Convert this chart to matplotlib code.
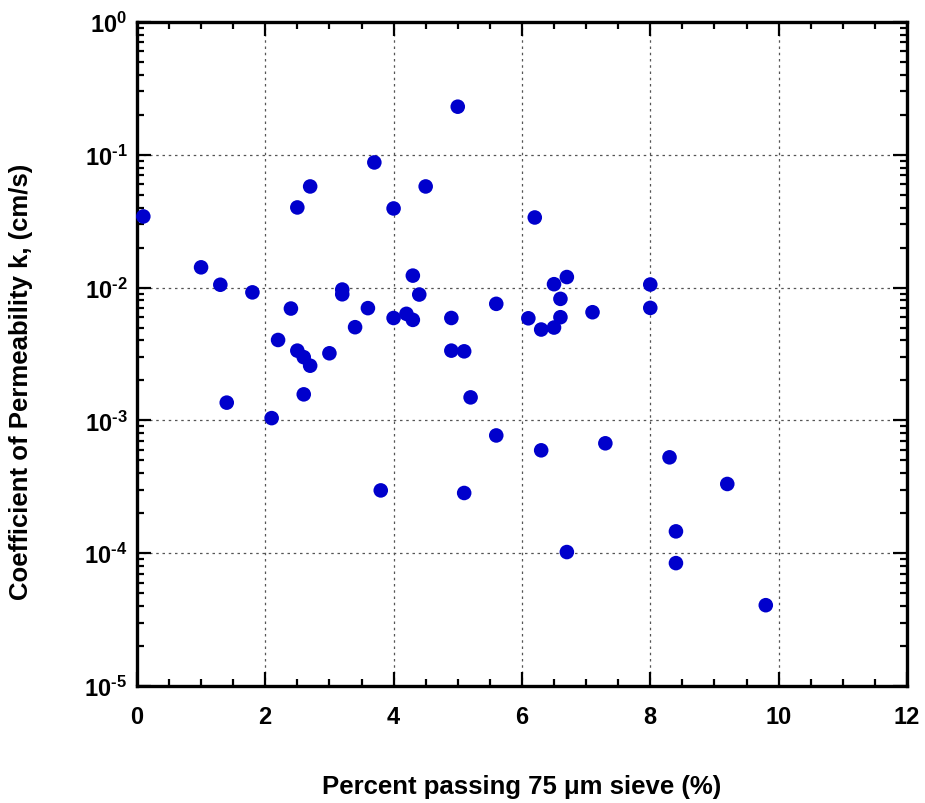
import math
import matplotlib
matplotlib.use("Agg")
import matplotlib.pyplot as plt
from matplotlib.ticker import MultipleLocator, LogLocator, FuncFormatter, NullFormatter

plt.rcParams["font.family"] = ["Liberation Sans", "DejaVu Sans"]
plt.rcParams["font.weight"] = "bold"
plt.rcParams["mathtext.fontset"] = "custom"
plt.rcParams["mathtext.bf"] = "Liberation Sans:bold"
plt.rcParams["mathtext.rm"] = "Liberation Sans:bold"
plt.rcParams["mathtext.default"] = "bf"

# percent passing 75 um sieve (%) and permeability k (cm/s)
fines = [0.1, 1.0, 1.3, 1.8, 1.4, 2.1, 2.2, 2.4, 2.5, 2.5,
         2.6, 2.6, 2.7, 2.7, 3.0, 3.2, 3.2, 3.4, 3.6, 3.7,
         3.8, 4.0, 4.0, 4.2, 4.3, 4.3, 4.4, 4.5, 4.9, 4.9,
         5.0, 5.1, 5.1, 5.2, 5.6, 5.6, 6.1, 6.2, 6.3, 6.3,
         6.5, 6.5, 6.6, 6.6, 6.7, 6.7, 7.1, 7.3, 8.0, 8.0,
         8.3, 8.4, 8.4, 9.2, 9.8]
perm = [0.0343, 0.0142, 0.0105, 0.0092, 0.00136, 0.00104, 0.00403, 0.00695, 0.0401, 0.00335,
        0.00299, 0.00157, 0.0577, 0.00258, 0.0032, 0.00966, 0.0089, 0.00503, 0.0070, 0.0875,
        0.000297, 0.0394, 0.0059, 0.00634, 0.0123, 0.00571, 0.00886, 0.0577, 0.0059, 0.00335,
        0.23, 0.00331, 0.000284, 0.00149, 0.00754, 0.00077, 0.00587, 0.0337, 0.00483, 0.000595,
        0.0106, 0.0050, 0.00822, 0.00598, 0.012, 0.000102, 0.00652, 0.000672, 0.01054, 0.00703,
        0.000527, 0.000146, 0.0000842, 0.000332, 0.0000406]


def decade_label(v, pos):
    e = round(math.log10(v))
    if e < 0:
        return r"$10^{\text{-}%d}$" % (-e)
    return r"$10^{%d}$" % e


fig = plt.figure(figsize=(9.25, 8.04), dpi=100)
ax = fig.add_axes([0.148, 0.1455, 0.8325, 0.826])

ax.scatter(fines, perm, s=110, color="#0000CC", edgecolors="none", zorder=3, clip_on=False)

ax.set_yscale("log")
ax.set_xlim(0, 12)
ax.set_ylim(1e-5, 1)

ax.xaxis.set_major_locator(MultipleLocator(2))
ax.xaxis.set_minor_locator(MultipleLocator(0.5))
ax.yaxis.set_major_locator(LogLocator(base=10, numticks=10))
ax.yaxis.set_minor_locator(LogLocator(base=10, subs=range(2, 10), numticks=20))
ax.yaxis.set_major_formatter(FuncFormatter(decade_label))
ax.yaxis.set_minor_formatter(NullFormatter())

ax.tick_params(which="both", direction="in", top=True, right=True, width=1.6, labelsize=17)
ax.tick_params(axis="x", pad=14)
ax.tick_params(axis="y", pad=7)
ax.tick_params(which="major", length=10)
ax.tick_params(which="minor", length=5)
for lab in ax.get_xticklabels():
    lab.set_fontweight("bold")

for sp in ax.spines.values():
    sp.set_linewidth(2.4)

ax.grid(True, which="major", linestyle=(0, (2, 3)), color="#555555", linewidth=0.9)

ax.set_xlabel("Percent passing 75 \u03bcm sieve (%)", fontsize=18.5, fontweight="bold")
ax.set_ylabel("Coefficient of Permeability k, (cm/s)", fontsize=18.5, fontweight="bold")
ax.xaxis.set_label_coords(0.499, -0.133)
ax.yaxis.set_label_coords(-0.135, 0.459)

fig.savefig("out.png", dpi=100)
